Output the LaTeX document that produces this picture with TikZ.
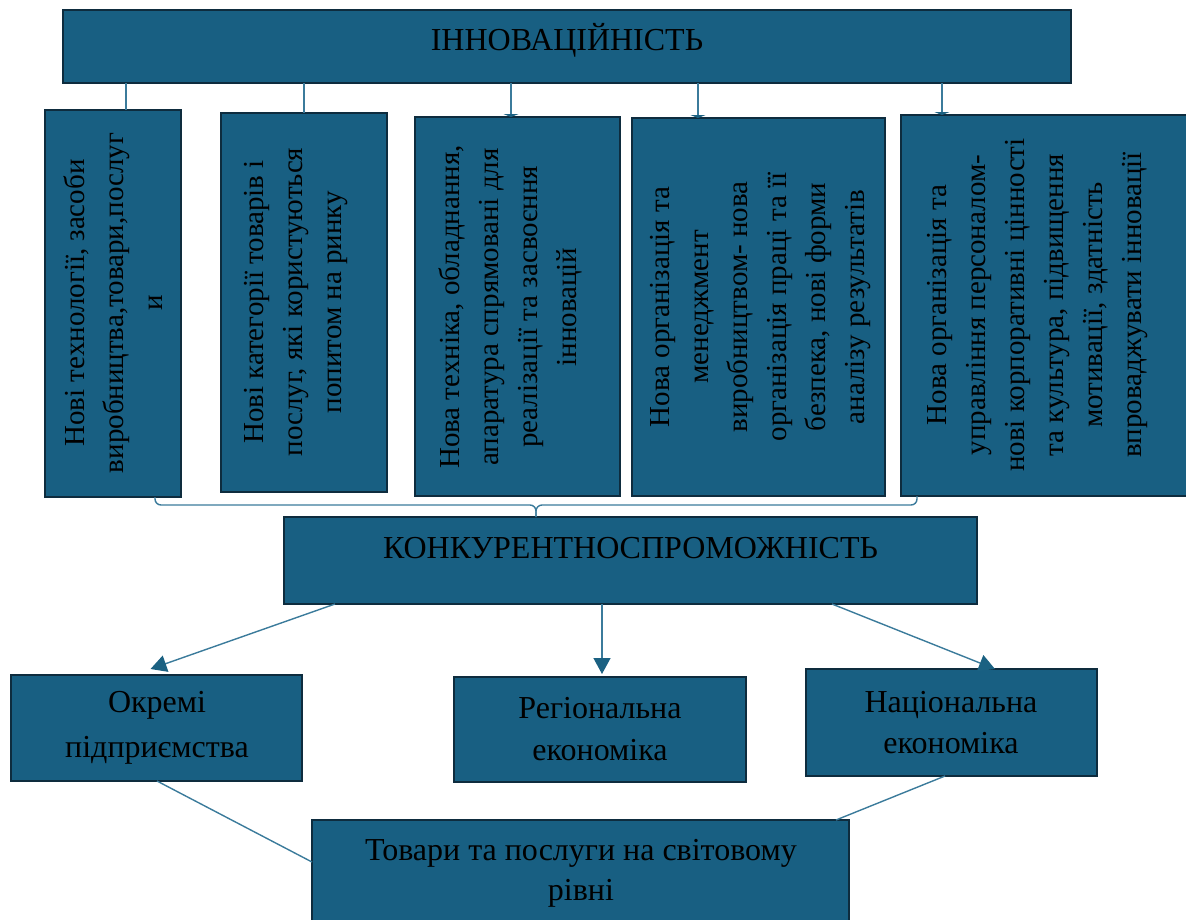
\documentclass[tikz,border=0pt]{standalone}
\usepackage{fontspec}
\setmainfont{Liberation Serif}
\usetikzlibrary{arrows.meta,calc}
\definecolor{fillc}{HTML}{185F82}
\definecolor{borderc}{HTML}{0E2C3E}
\definecolor{linec}{HTML}{3B7B9B}
\definecolor{arrowc}{HTML}{1B6182}
\tikzset{
  box/.style={draw=borderc, line width=2.5pt, fill=fillc, inner sep=0pt, outer sep=0pt},
  conn/.style={draw=linec, line width=1.4pt},
  arr/.style={conn, -{Triangle[width=17pt,length=16pt,color=arrowc,fill=arrowc]}},
  tick/.style={conn, -{Triangle[width=15pt,length=3pt,color=arrowc,fill=arrowc]}},
  vtxt/.style={rotate=90, align=center, inner sep=0pt, font=\fontsize{29}{39}\selectfont},
  htxt/.style={align=center, inner sep=0pt, font=\fontsize{32}{43}\selectfont},
}
\begin{document}
\begin{tikzpicture}[x=1pt,y=-1pt]
\useasboundingbox (0,0) rectangle (1186,919);
% boxes
\node[box, minimum width=1008pt, minimum height=73pt] (top) at (567,46.5) {};
\node[box, minimum width=136pt, minimum height=387pt] (b1) at (113,303.5) {};
\node[box, minimum width=166pt, minimum height=379pt] (b2) at (304,302.5) {};
\node[box, minimum width=205pt, minimum height=379pt] (b3) at (517.5,306.5) {};
\node[box, minimum width=253pt, minimum height=378pt] (b4) at (758.5,307) {};
\node[box, minimum width=291pt, minimum height=381pt] (b5) at (1046.5,305.5) {};
\node[box, minimum width=693pt, minimum height=87pt] (konk) at (630.5,560.5) {};
\node[box, minimum width=291pt, minimum height=106pt] (ok) at (156.5,728) {};
\node[box, minimum width=292pt, minimum height=105pt] (reg) at (600,729.5) {};
\node[box, minimum width=291pt, minimum height=107pt] (nat) at (951.5,722.5) {};
\node[box, minimum width=537pt, minimum height=110pt] (tov) at (580.5,875) {};
% texts
\node[htxt] (ttop) at (567,40) {ІННОВАЦІЙНІСТЬ};
\node[vtxt] (t1) at (113,303) {Нові технології,  засоби\\виробництва,товари,послуг\\и};
\node[vtxt] (t2) at (296,302) {Нові категорії товарів і\\послуг, які користуються\\попитом на ринку};
\node[vtxt] (t3) at (510,307) {Нова техніка,  обладнання,\\апаратура спрямовані для\\реалізації та засвоєння\\інновацій};
\node[vtxt] (t4) at (761,307) {Нова організація та\\менеджмент\\виробництвом- нова\\організація праці та її\\безпека, нові форми\\аналізу результатів};
\node[vtxt] (t5) at (1038,305) {Нова організація та\\управління персоналом-\\нові корпоративні цінності\\та культура, підвищення\\мотивації, здатність\\впроваджувати інновації};
\node[htxt] (tkonk) at (630.5,548) {КОНКУРЕНТНОСПРОМОЖНІСТЬ};
\node[htxt, font=\fontsize{32}{45}\selectfont] (tok) at (157,728) {Окремі\\підприємства};
\node[htxt, font=\fontsize{32}{42}\selectfont] (treg) at (600,729) {Регіональна\\економіка};
\node[htxt, font=\fontsize{32}{41}\selectfont] (tnat) at (951,722.5) {Національна\\економіка};
\node[htxt, font=\fontsize{32}{40}\selectfont] (ttov) at (581,873) {Товари та послуги на світовому\\рівні};
% top connectors
\draw[conn] ([xshift=13pt]b1.north |- top.south) -- ([xshift=13pt]b1.north);
\draw[conn] (b2.north |- top.south) -- (b2.north);
\draw[tick] ([xshift=-6.5pt]b3.north |- top.south) -- ([xshift=-6.5pt]b3.north);
\draw[tick] ([xshift=-60.5pt]b4.north |- top.south) -- ([xshift=-60.5pt]b4.north);
\draw[tick] ([xshift=-104.5pt]b5.north |- top.south) -- ([xshift=-104.5pt]b5.north);
% brace
\coordinate (bm) at ([xshift=-94.5pt]konk.north);
\draw[conn, rounded corners=6pt] ([xshift=42pt]b1.south) |- ([yshift=12pt]bm) -- (bm);
\draw[conn, rounded corners=6pt] ([xshift=-129.5pt]b5.south) |- ([yshift=12pt]bm) -- (bm);
% arrows
\draw[arr] ([xshift=-295.5pt]konk.south) -- ([xshift=-6pt,yshift=6pt]ok.north);
\draw[arr, shorten >=3pt] ([xshift=-28.5pt]konk.south) -- ([xshift=-28.5pt]konk.south |- reg.north);
\draw[arr] ([xshift=201.5pt]konk.south) -- ([xshift=43.5pt]nat.north);
% bottom lines
\draw[conn] ([xshift=0.5pt]ok.south) -- ([yshift=13pt]tov.west);
\draw[conn] ([xshift=-6.5pt]nat.south) -- ([xshift=255.5pt]tov.north);
\end{tikzpicture}
\end{document}
